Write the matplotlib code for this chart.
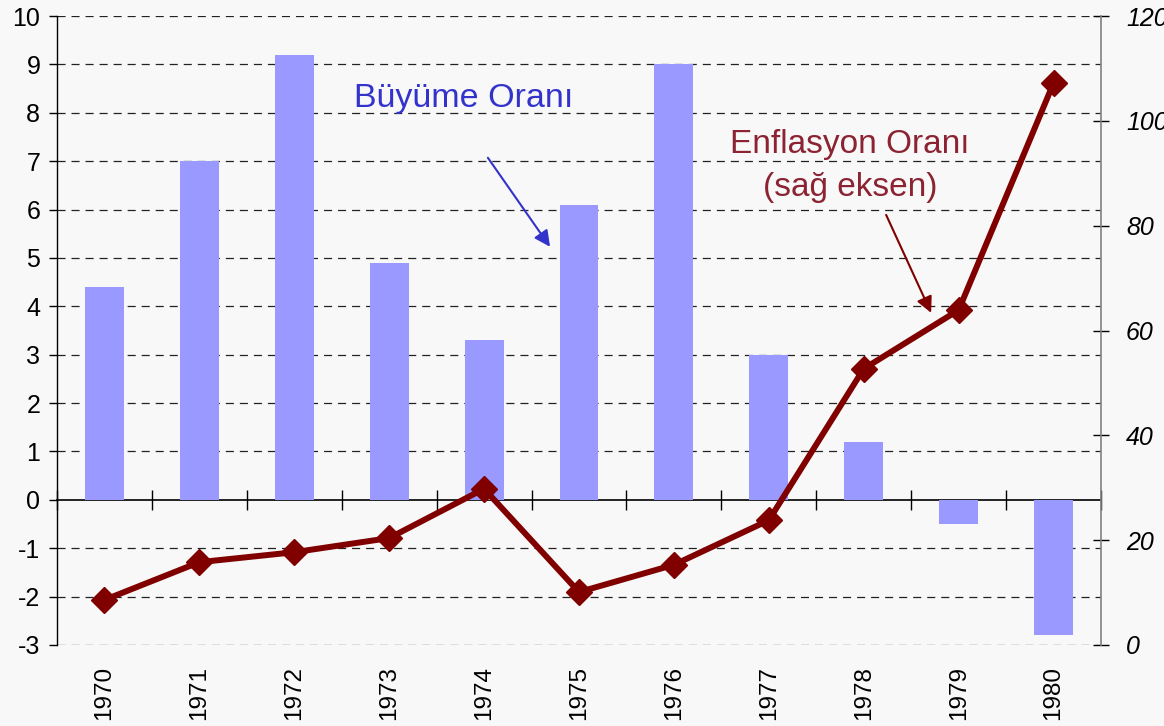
import matplotlib
matplotlib.use("Agg")
import matplotlib.pyplot as plt
import numpy as np

years = ["1970", "1971", "1972", "1973", "1974", "1975", "1976", "1977", "1978", "1979", "1980"]
growth = [4.4, 7.0, 9.2, 4.9, 3.3, 6.1, 9.0, 3.0, 1.2, -0.5, -2.8]
inflation = [8.6, 15.8, 17.7, 20.4, 29.8, 10.1, 15.3, 23.8, 52.7, 63.9, 107.2]
left_ticks = list(range(-3, 11))
right_ticks = list(range(0, 121, 20))

plt.rcParams['font.family'] = ['Liberation Sans', 'DejaVu Sans']
plt.rcParams['lines.scale_dashes'] = False

bg = "#F8F8F8"
fig = plt.figure(figsize=(11.64, 7.26), dpi=100, facecolor=bg)
ax = fig.add_axes([57/1164, 1 - 645/726, (1101 - 57)/1164, (645 - 16)/726])
ax.set_facecolor(bg)

x = np.arange(len(years))
ax.bar(x, growth, width=0.41, color="#9999FF", zorder=2)
ax.set_xlim(-0.5, len(years) - 0.5)
ax.set_ylim(-3, 10)
ax.set_yticks(left_ticks)
ax.set_yticklabels([str(v) for v in left_ticks])
for v in left_ticks:
    if v != 0:
        ax.axhline(v, color="#222222", lw=0.9, dashes=(5.8, 4.3), zorder=1)

ax.set_xticks(x)
ax.set_xticklabels(years, rotation=90, fontsize=17.5)
ax.tick_params(axis='x', length=0, pad=15)
ax.tick_params(axis='y', direction='out', length=6, width=1, labelsize=18, pad=6, colors='black')
for s in ['top', 'bottom', 'right']:
    ax.spines[s].set_visible(False)
ax.spines['left'].set_color('black')
ax.spines['left'].set_linewidth(1)

# zero axis line with category separators
sec = ax.secondary_xaxis(3/13)
sec.set_xticks(np.arange(-0.5, len(years), 1.0))
sec.set_xticklabels([])
sec.tick_params(axis='x', direction='inout', length=14, width=1, colors='black')
sec.spines['bottom'].set_color('black')
sec.spines['bottom'].set_linewidth(1.2)
sec.spines['bottom'].set_zorder(3)

ax2 = ax.twinx()
ax2.plot(x, inflation, color="#800000", lw=4.3, marker='D', markersize=13.5,
         markeredgecolor="#800000", markerfacecolor="#800000", zorder=5, clip_on=False)
ax2.set_ylim(0, 120)
ax2.set_yticks(right_ticks)
ax2.set_yticklabels([str(v) for v in right_ticks], fontstyle='italic')
ax2.tick_params(axis='y', direction='inout', length=12, width=1, labelsize=18, pad=12, colors='black')
for s in ['top', 'bottom', 'left']:
    ax2.spines[s].set_visible(False)
ax2.spines['right'].set_color('#808080')
ax2.spines['right'].set_linewidth(1.2)

# annotations (left-axis data coordinates)
ax.text(3.78, 8.12, "Büyüme Oranı", color="#3333CC", fontsize=24.5, ha='center', va='baseline', zorder=6)
ax.annotate("", xy=(4.695, 5.23), xytext=(4.04, 7.07),
            arrowprops=dict(arrowstyle='-|>', color="#3333CC", lw=1.5, mutation_scale=24,
                            shrinkA=0, shrinkB=0), zorder=6)
ax.text(7.856, 7.17, "Enflasyon Oranı", color="#8B2332", fontsize=24, ha='center', va='baseline', zorder=6)
ax.text(7.856, 6.28, "(sağ eksen)", color="#8B2332", fontsize=24, ha='center', va='baseline', zorder=6)
ax.annotate("", xy=(8.71, 3.865), xytext=(8.236, 5.89),
            arrowprops=dict(arrowstyle='-|>', color="#800000", lw=1.5, mutation_scale=24,
                            shrinkA=0, shrinkB=0), zorder=6)

fig.savefig("out.png", dpi=100, facecolor=bg)
